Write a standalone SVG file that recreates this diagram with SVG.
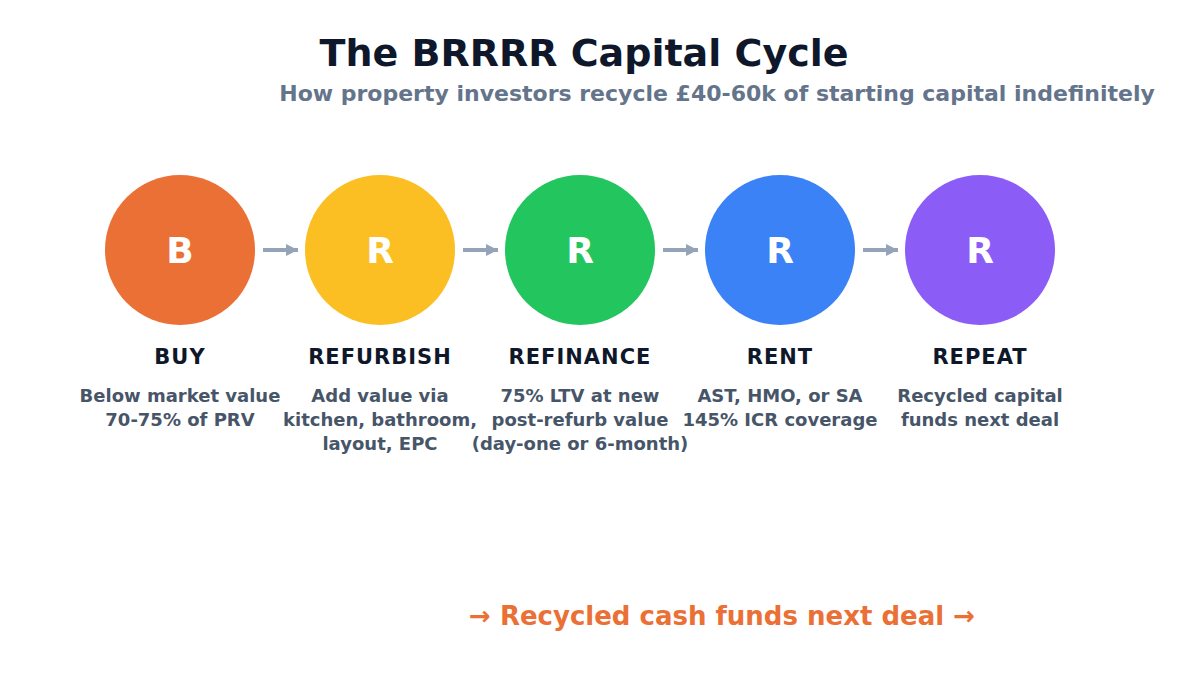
<svg xmlns="http://www.w3.org/2000/svg" width="1200" height="700" viewBox="0 0 1200 700">
<defs>
<style>
.b{font-family:"DejaVu Sans","Liberation Sans",sans-serif;font-weight:bold}
.title{font-size:38px;fill:#0f172a;text-anchor:middle}
.sub{font-size:22px;fill:#64748b;text-anchor:middle}
.letter{font-size:36px;fill:#ffffff;text-anchor:middle}
.lab{font-size:21px;fill:#0f172a;text-anchor:middle;letter-spacing:1px}
.desc{font-size:18px;fill:#475569;text-anchor:middle}
.foot{font-size:26px;fill:#ea7035;text-anchor:middle}
.conn{stroke:#94a3b8;stroke-width:4;fill:none}
</style>
<marker id="ah" viewBox="0 0 10 10" refX="10" refY="5" markerWidth="3" markerHeight="4" orient="auto" markerUnits="strokeWidth">
<path d="M0,0 L10,5 L0,10 z" fill="#94a3b8"/>
</marker>
</defs>
<rect width="1200" height="700" fill="#ffffff"/>
<text class="b title" x="584" y="66">The BRRRR Capital Cycle</text>
<text class="b sub" x="717" y="101">How property investors recycle £40-60k of starting capital indefinitely</text>
<g id="connectors">
<line class="conn" x1="263" y1="250" x2="298" y2="250" marker-end="url(#ah)"/>
<line class="conn" x1="463" y1="250" x2="498" y2="250" marker-end="url(#ah)"/>
<line class="conn" x1="663" y1="250" x2="698" y2="250" marker-end="url(#ah)"/>
<line class="conn" x1="863" y1="250" x2="898" y2="250" marker-end="url(#ah)"/>
</g>
<g id="buy">
<circle cx="180" cy="250" r="75" fill="#ea7035"/>
<text class="b letter" x="180" y="263">B</text>
<text class="b lab" x="180" y="364">BUY</text>
<text class="b desc" x="180" y="402">Below market value</text>
<text class="b desc" x="180" y="426">70-75% of PRV</text>
</g>
<g id="refurbish">
<circle cx="380" cy="250" r="75" fill="#fbbf24"/>
<text class="b letter" x="380" y="263">R</text>
<text class="b lab" x="380" y="364">REFURBISH</text>
<text class="b desc" x="380" y="402">Add value via</text>
<text class="b desc" x="380" y="426">kitchen, bathroom,</text>
<text class="b desc" x="380" y="450">layout, EPC</text>
</g>
<g id="refinance">
<circle cx="580" cy="250" r="75" fill="#22c55e"/>
<text class="b letter" x="580" y="263">R</text>
<text class="b lab" x="580" y="364">REFINANCE</text>
<text class="b desc" x="580" y="402">75% LTV at new</text>
<text class="b desc" x="580" y="426">post-refurb value</text>
<text class="b desc" x="580" y="450">(day-one or 6-month)</text>
</g>
<g id="rent">
<circle cx="780" cy="250" r="75" fill="#3b82f6"/>
<text class="b letter" x="780" y="263">R</text>
<text class="b lab" x="780" y="364">RENT</text>
<text class="b desc" x="780" y="402">AST, HMO, or SA</text>
<text class="b desc" x="780" y="426">145% ICR coverage</text>
</g>
<g id="repeat">
<circle cx="980" cy="250" r="75" fill="#8b5cf6"/>
<text class="b letter" x="980" y="263">R</text>
<text class="b lab" x="980" y="364">REPEAT</text>
<text class="b desc" x="980" y="402">Recycled capital</text>
<text class="b desc" x="980" y="426">funds next deal</text>
</g>
<text class="b foot" x="722" y="625">→ Recycled cash funds next deal →</text>
</svg>
